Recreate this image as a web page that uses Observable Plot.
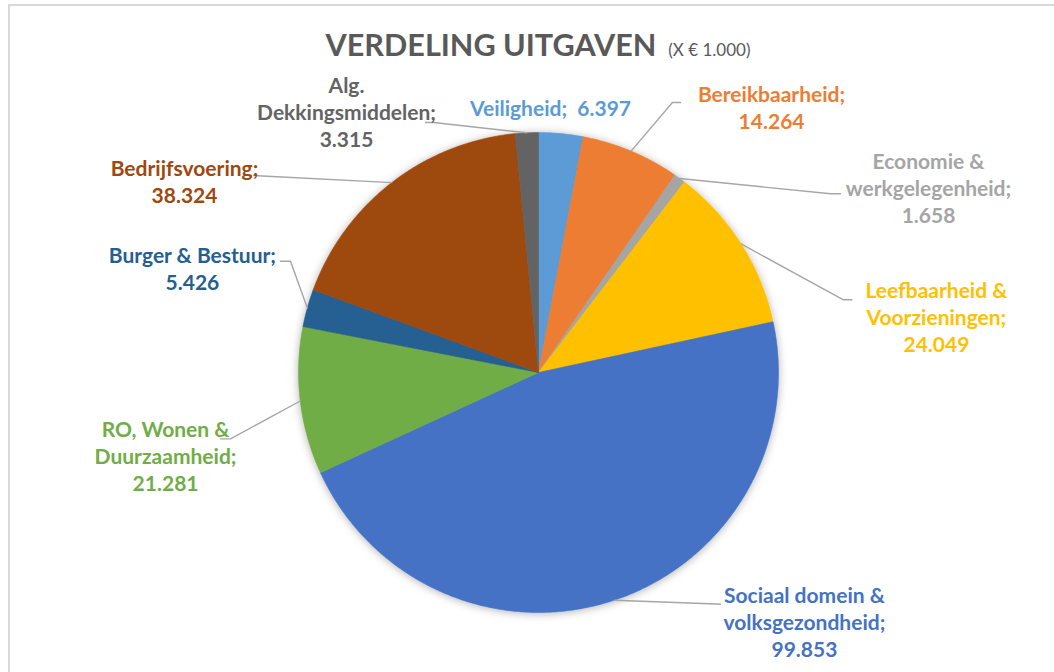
<!DOCTYPE html>
<html>
<head>
<meta charset="utf-8">
<script src="https://cdn.jsdelivr.net/npm/d3@7"></script>
<script src="https://cdn.jsdelivr.net/npm/@observablehq/plot@0.6"></script>
<style>
  html, body { margin: 0; padding: 0; background: #ffffff; }
  #wrap { position: relative; width: 1054px; height: 672px; overflow: hidden; background: #ffffff; font-family: Lato, "Open Sans", sans-serif; }
  #header { position: relative; height: 72px; }
  #title { position: absolute; top: 30px; left: 11px; width: 100%; text-align: center; color: #595959; white-space: nowrap; line-height: 1; }
  #title .main { font-size: 30.6px; font-weight: 700; }
  #title .unit { font-size: 17px; font-weight: 400; margin-left: 12px; }
  #frame { position: absolute; left: 8px; top: 4px; right: -20px; bottom: -20px; border-left: 2px solid #d9d9d9; border-top: 2px solid #d9d9d9; pointer-events: none; }
  #chart svg { display: block; }
</style>
</head>
<body>
<div id="wrap">
  <div id="header"><div id="title"><span class="main">VERDELING UITGAVEN</span><span class="unit">(X € 1.000)</span></div></div>
  <div id="chart"></div>
  <div id="frame"></div>
</div>
<script>
// ---------- data ----------
const names = [
  "Veiligheid",
  "Bereikbaarheid",
  "Economie & werkgelegenheid",
  "Leefbaarheid & Voorzieningen",
  "Sociaal domein & volksgezondheid",
  "RO, Wonen & Duurzaamheid",
  "Burger & Bestuur",
  "Bedrijfsvoering",
  "Alg. Dekkingsmiddelen"
];
const values = [6.397, 14.264, 1.658, 24.049, 99.853, 21.281, 5.426, 38.324, 3.315];
const labelLines = [
  "Veiligheid;\u00a0 6.397",
  "Bereikbaarheid;\n14.264",
  "Economie &\nwerkgelegenheid;\n1.658",
  "Leefbaarheid &\nVoorzieningen;\n24.049",
  "Sociaal domein &\nvolksgezondheid;\n99.853",
  "RO, Wonen &\nDuurzaamheid;\n21.281",
  "Burger & Bestuur;\n5.426",
  "Bedrijfsvoering;\n38.324",
  "Alg.\nDekkingsmiddelen;\n3.315"
];
const colors = ["#5B9BD5", "#ED7D31", "#A5A5A5", "#FFC000", "#4472C4", "#70AD47", "#255E91", "#9E480E", "#636363"];

// ---------- layout (pie radius = 1 unit) ----------
const W = 1054, H = 600, CX = 538, CY = 300, R = 240;
const labelPos = [
  [0.05, 1.104], [0.971, 1.108], [1.625, 0.771], [1.658, 0.233], [1.108, -1.0375],
  [-1.554, -0.346], [-1.442, 0.435], [-1.475, 0.80], [-0.80, 1.0875]
];
// leader line: [elbow, end] in units, null = no leader
const leaders = [
  null,
  [[0.558, 1.125], [0.592, 1.125]],
  [[1.2167, 0.7446], [1.2583, 0.7446]],
  [[1.2708, 0.3029], [1.3056, 0.3029]],
  [[0.7417, -0.9646], [0.7583, -0.9654]],
  [[-1.2833, -0.2764], [-1.325, -0.2764]],
  [[-1.0333, 0.4637], [-1.075, 0.4637]],
  [[-1.15, 0.8188], [-1.1875, 0.8208]],
  [[-0.4375, 1.0417], [-0.4708, 1.0417]]
];

// ---------- build ----------
const arcs = d3.pie().sort(null).value(d => d)(values);
const slicePts = [];
arcs.forEach((a, i) => {
  slicePts.push({name: names[i], x: 0, y: 0});
  const n = Math.max(2, Math.ceil((a.endAngle - a.startAngle) / (Math.PI / 360)));
  for (let k = 0; k <= n; k++) {
    const t = a.startAngle + (a.endAngle - a.startAngle) * k / n;
    slicePts.push({name: names[i], x: Math.sin(t), y: Math.cos(t)});
  }
  slicePts.push({name: names[i], x: 0, y: 0});
});

const leaderPts = [];
arcs.forEach((a, i) => {
  if (!leaders[i]) return;
  const m = (a.startAngle + a.endAngle) / 2;
  leaderPts.push({name: names[i], x: Math.sin(m), y: Math.cos(m)});
  leaders[i].forEach(p => leaderPts.push({name: names[i], x: p[0], y: p[1]}));
});

const labels = names.map((n, i) => ({name: n, text: labelLines[i], x: labelPos[i][0], y: labelPos[i][1]}));

const chart = Plot.plot({
  width: W,
  height: H,
  margin: 0,
  x: {domain: [-CX / R, (W - CX) / R], axis: null},
  y: {domain: [-(H - CY) / R, CY / R], axis: null},
  color: {domain: names, range: colors},
  marks: [
    Plot.line(slicePts, {x: "x", y: "y", z: "name", fill: "name", stroke: "name", strokeWidth: 0.6}),
    Plot.line(leaderPts, {x: "x", y: "y", z: "name", stroke: "#a6a6a6", strokeWidth: 1.4}),
    Plot.text(labels, {x: "x", y: "y", text: "text", fill: "name", fontSize: 21, fontWeight: "bold", fontFamily: "Lato", lineHeight: 1.286, textAnchor: "middle"})
  ]
});

// soft shadow under the pie
const ns = "http://www.w3.org/2000/svg";
const defs = document.createElementNS(ns, "defs");
defs.innerHTML = '<filter id="pieShadow" x="-20%" y="-20%" width="140%" height="140%"><feDropShadow dx="0" dy="1" stdDeviation="4" flood-color="#000" flood-opacity="0.3"/></filter>';
chart.insertBefore(defs, chart.firstChild);
const firstLine = chart.querySelector('g[aria-label="line"]');
if (firstLine) firstLine.setAttribute("filter", "url(#pieShadow)");

document.getElementById("chart").appendChild(chart);
</script>
</body>
</html>
